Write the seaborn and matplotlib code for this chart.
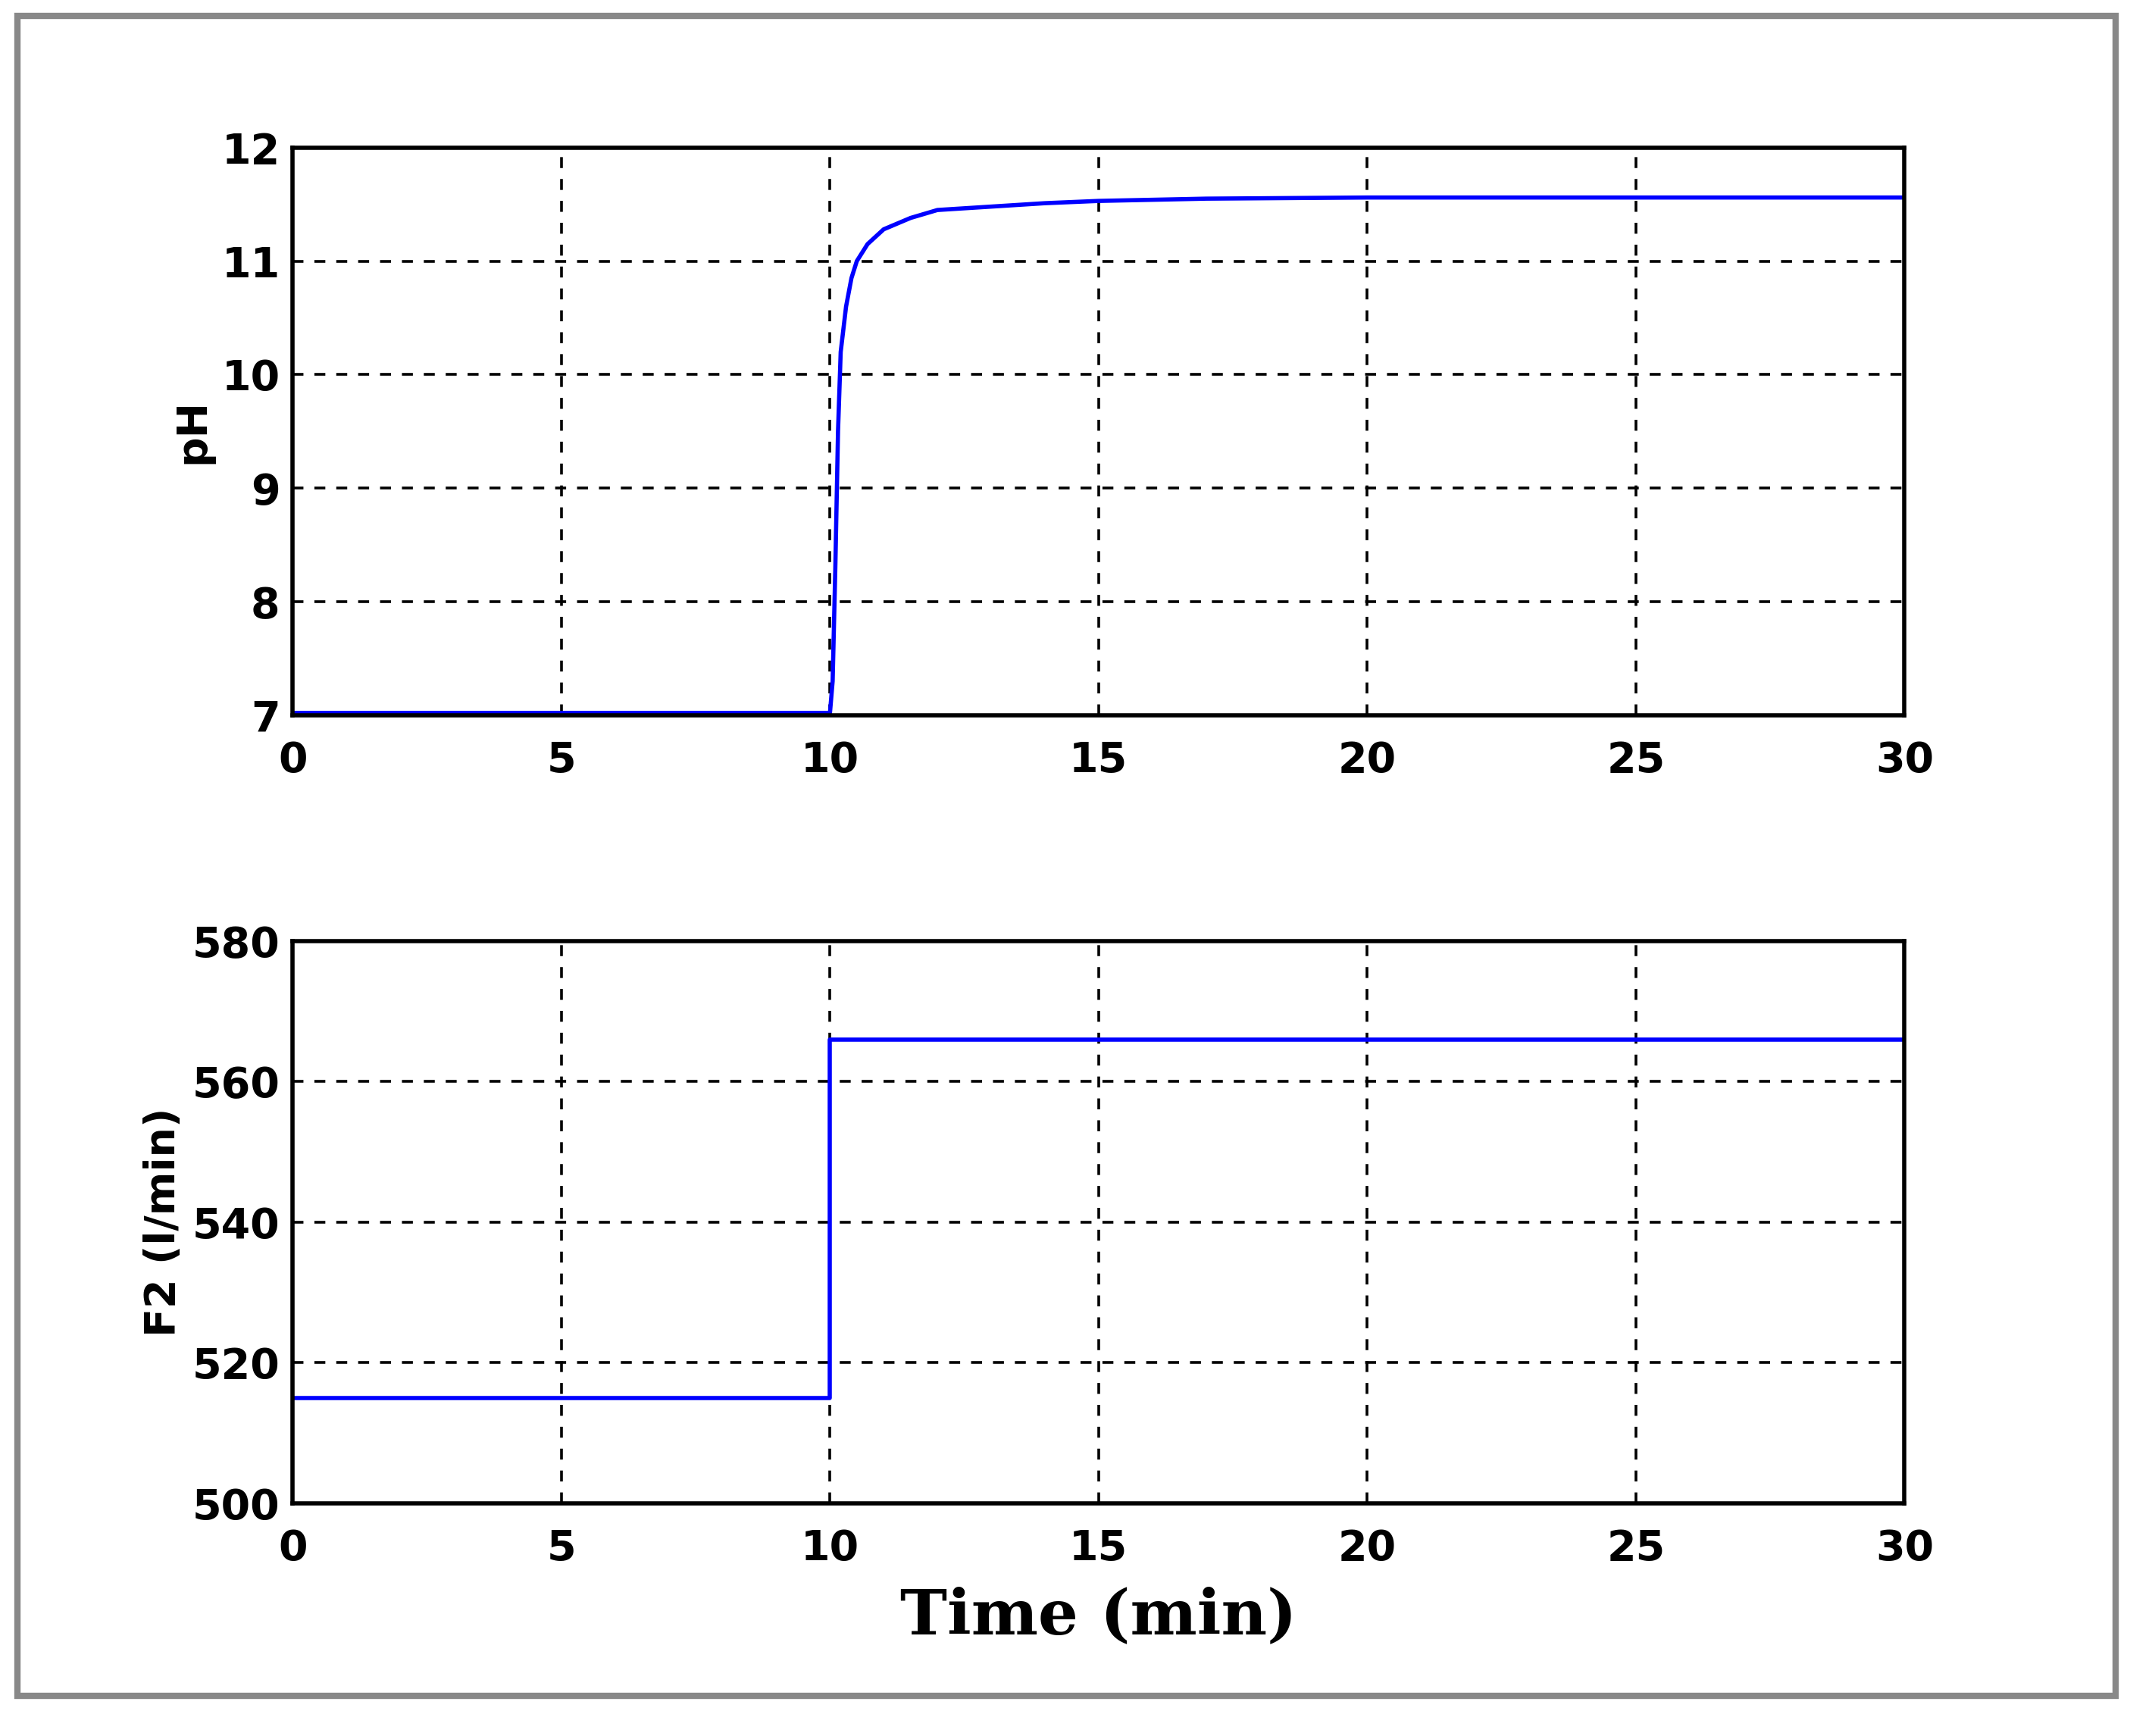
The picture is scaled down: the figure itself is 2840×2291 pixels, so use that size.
import matplotlib
matplotlib.use("Agg")
import matplotlib.pyplot as plt
import seaborn as sns
import pandas as pd
from matplotlib.patches import Rectangle

sns.set_style("white")
plt.rcParams['font.family'] = ['DejaVu Sans']

t_ph = [0, 10.0, 10.05, 10.1, 10.15, 10.2, 10.3, 10.4, 10.5, 10.7, 11.0, 11.5, 12.0, 13.0, 14.0, 15.0, 17.0, 20.0, 25.0, 30.0]
ph   = [7.02, 7.02, 7.3, 8.3, 9.5, 10.2, 10.6, 10.85, 11.0, 11.15, 11.28, 11.38, 11.45, 11.48, 11.51, 11.53, 11.55, 11.56, 11.56, 11.56]
t_f2 = [0, 10.0, 10.0, 30.0]
f2   = [515, 515, 566, 566]

fig = plt.figure(figsize=(14.2, 11.455), dpi=200)
fig.patches.append(Rectangle((0.008, 0.023), 0.975, 0.968, transform=fig.transFigure,
                             fill=False, edgecolor='#888888', linewidth=3))
ax1 = fig.add_axes([0.136, 0.588, 0.749, 0.327])
ax2 = fig.add_axes([0.136, 0.134, 0.749, 0.324])

sns.lineplot(data=pd.DataFrame({'t': t_ph, 'v': ph}), x='t', y='v', ax=ax1, color='blue', lw=2, estimator=None, sort=False)
sns.lineplot(data=pd.DataFrame({'t': t_f2, 'v': f2}), x='t', y='v', ax=ax2, color='blue', lw=2, estimator=None, sort=False)

for ax, ylim, yt in [(ax1, (7, 12), range(7, 13)), (ax2, (500, 580), range(500, 581, 20))]:
    ax.set_xlim(0, 30); ax.set_ylim(*ylim)
    ax.set_xticks(range(0, 31, 5)); ax.set_yticks(list(yt))
    ax.grid(True, color='black', linestyle=(0, (4, 4)), linewidth=1.3)
    for s in ax.spines.values():
        s.set_color('black'); s.set_linewidth(2)
    ax.tick_params(labelsize=20, direction='in', length=6, color='black', labelcolor='black')
    ax.tick_params(axis='x', pad=12)
    ax.tick_params(axis='y', pad=6)
    for lab in ax.get_xticklabels() + ax.get_yticklabels():
        lab.set_fontweight('bold')
    ax.set_xlabel('')

ax1.set_ylabel('pH', fontsize=20, fontweight='bold', color='black')
ax2.set_ylabel('F2 (l/min)', fontsize=20, fontweight='bold', color='black')
ax2.set_xlabel('Time (min)', fontsize=30, fontweight='bold', family='DejaVu Serif', labelpad=8, color='black')
fig.savefig('out.png', dpi=200, facecolor='white')
